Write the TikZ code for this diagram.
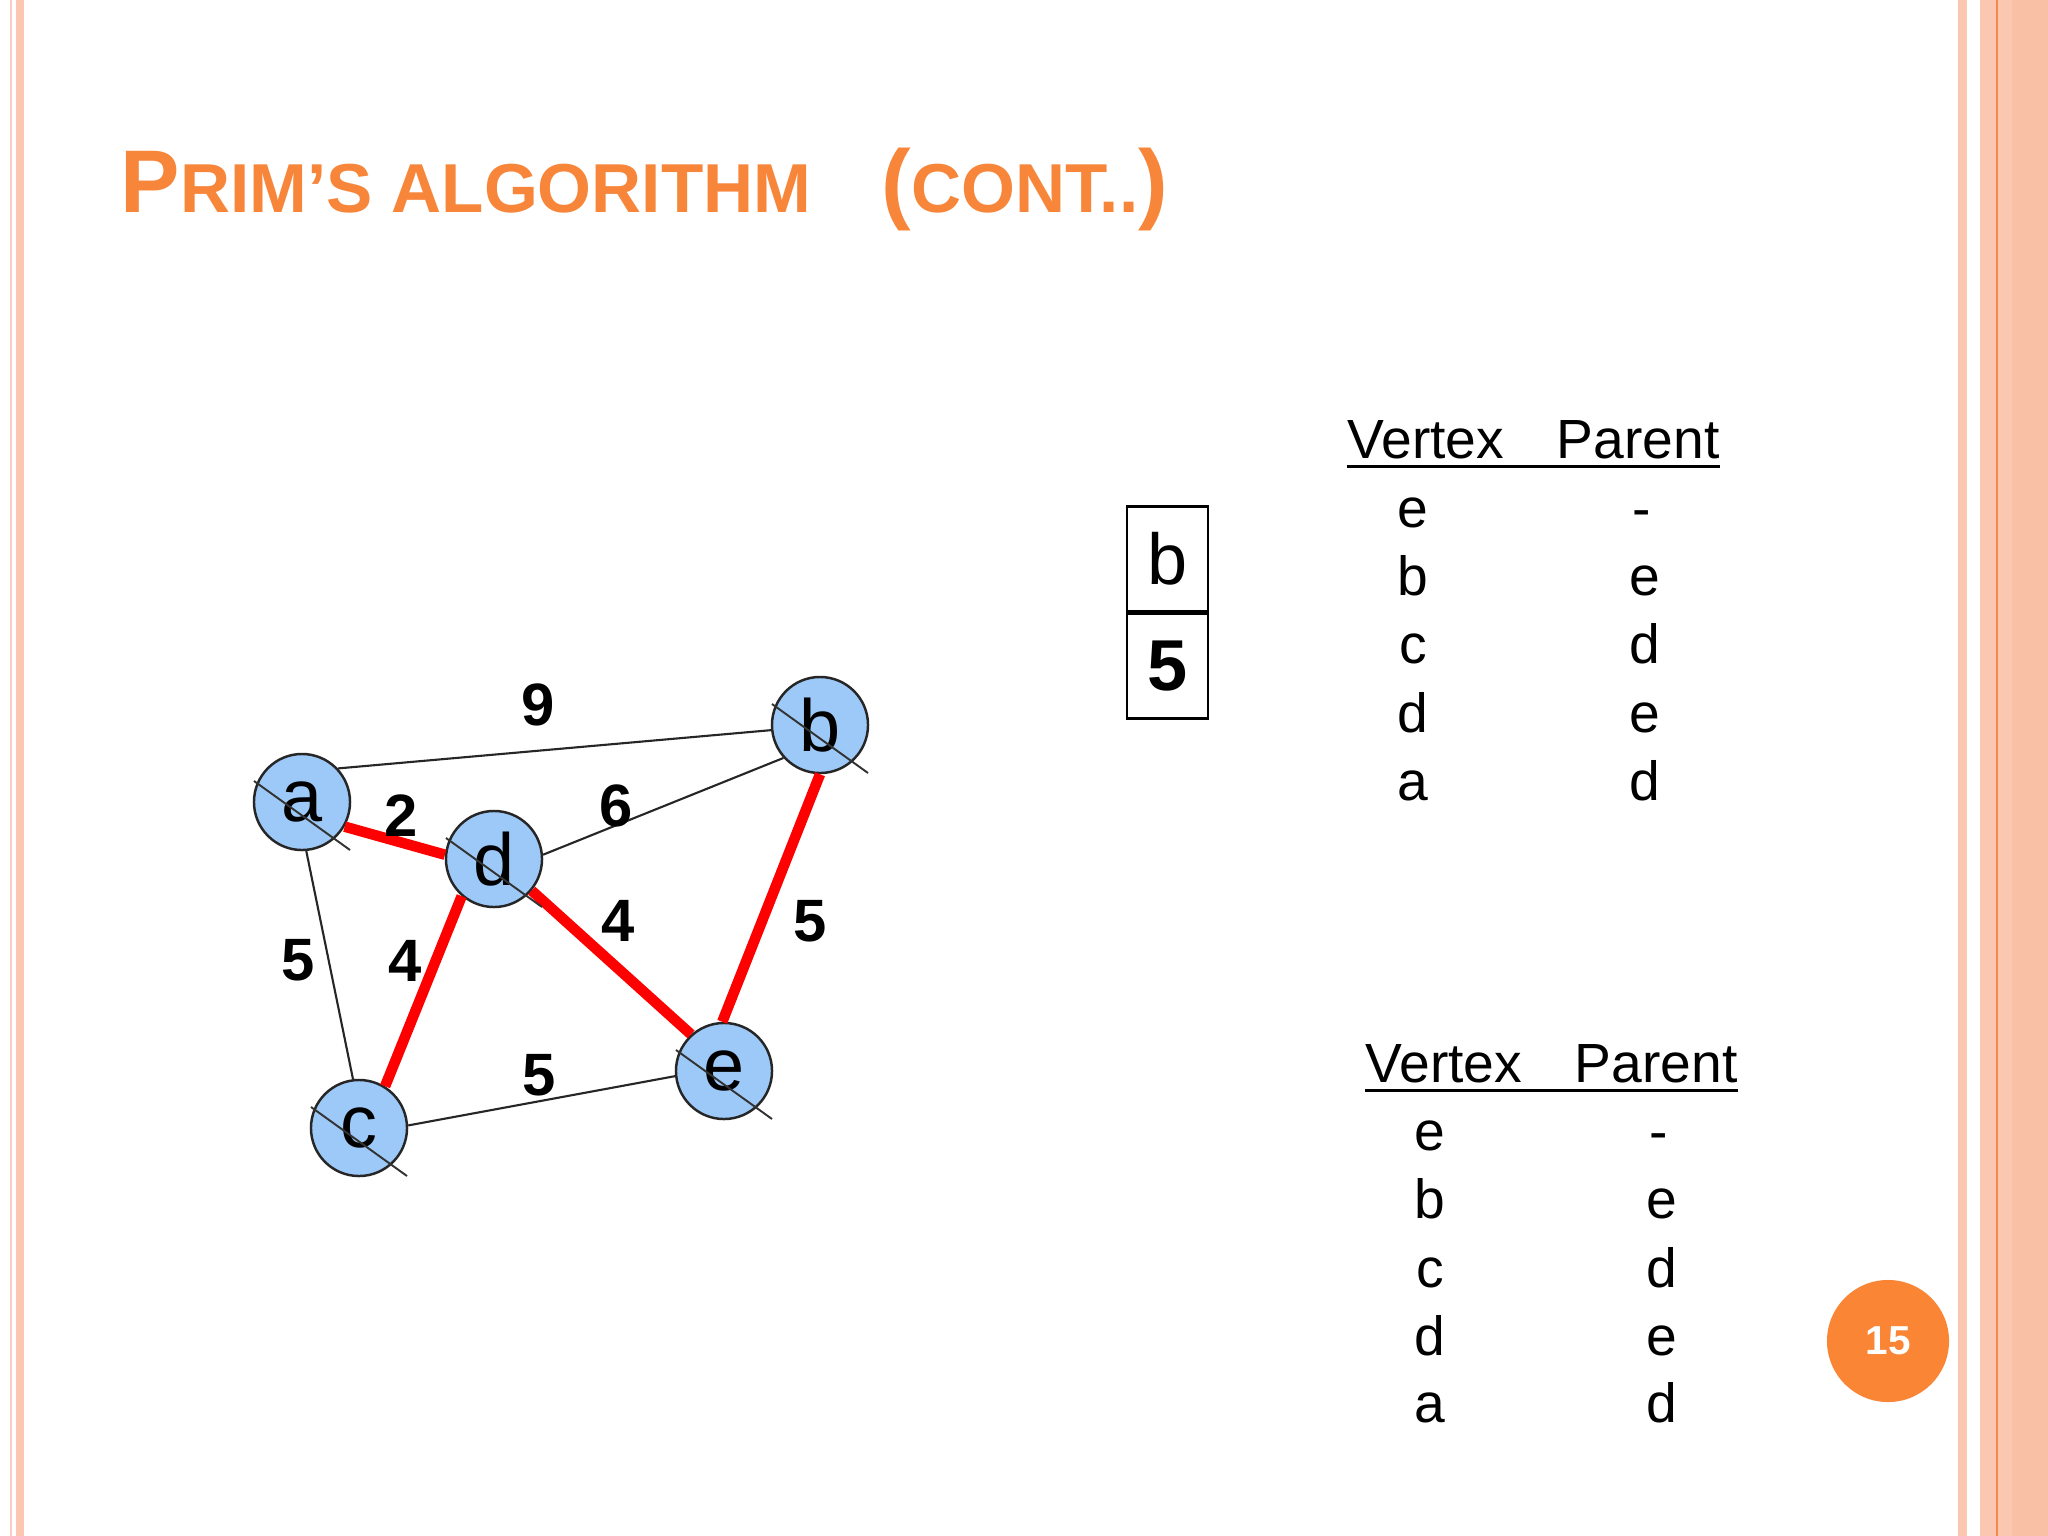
\documentclass[tikz,border=0pt]{standalone}
\usepackage{fontspec}
\setmainfont{Liberation Sans}
\usepackage{tikz}
\usetikzlibrary{positioning}
\usepackage{xcolor}

\definecolor{titleorange}{HTML}{F7863A}
\definecolor{pageorange}{HTML}{FA8535}
\definecolor{bandpink}{HTML}{FBC7B1}
\definecolor{bandpinkdark}{HTML}{FAC0A6}
\definecolor{thinpink}{HTML}{F6CEC3}
\definecolor{lineorange}{HTML}{F28A4E}
\definecolor{nodeblue}{HTML}{9DC9F8}
\definecolor{mstred}{HTML}{FF0000}

\tikzset{
	vertex/.style={circle, draw=black!85, line width=0.7pt, fill=nodeblue,
		minimum size=0.96cm, inner sep=0pt, font=\fontsize{21}{24}\selectfont},
	strike/.style={draw=black!80, line width=0.55pt},
	plainedge/.style={draw=black!85, line width=0.6pt},
	treeedge/.style={draw=mstred, line width=3pt},
	weight/.style={font=\fontsize{17}{20}\selectfont\bfseries, inner sep=0pt},
	tabtext/.style={font=\fontsize{15.7}{19}\selectfont, inner sep=0pt},
	cellbox/.style={draw=black, line width=0.7pt, minimum width=0.81cm,
		minimum height=1.045cm, inner sep=0pt, font=\fontsize{20.5}{24}\selectfont}
}

\newcommand{\bigtitle}{\fontsize{25.3}{30}\selectfont}
\newcommand{\smalltitle}{\fontsize{19.7}{24}\selectfont}

\begin{document}
\begin{tikzpicture}[x=0.01cm, y=-0.01cm]
			% Page and borders
			\fill[white] (0,0) rectangle (2048,1536);
			\useasboundingbox (0,0) rectangle (2048,1536);
			\fill[thinpink] (10,0) rectangle (12,1536);
			\fill[bandpink] (16,0) rectangle (24,1536);
			\fill[bandpink] (1958,0) rectangle (1967,1536);
			\fill[bandpink] (1980,0) rectangle (2048,1536);
			\fill[bandpinkdark] (2012,0) rectangle (2048,1536);
			\draw[lineorange, line width=0.6pt] (1997,0) -- (1997,1536);

			% Title
			\node[anchor=base west, inner sep=0pt, text=titleorange, font=\bfseries] (title) at (120,212)
				{{\bigtitle P}{\smalltitle RIM’S ALGORITHM}\hspace{20pt}{\bigtitle (}{\smalltitle CONT..}{\bigtitle )}};

			% Graph: vertices
			\node[vertex] (a) at (302,802)  {a};
			\node[vertex] (b) at (820,725)  {b};
			\node[vertex] (d) at (494,859)  {d};
			\node[vertex] (c) at (359,1128) {c};
			\node[vertex] (e) at (724,1071) {e};

			% Graph: edges not in the tree
			\draw[plainedge] (a.43) -- (b.186);
			\draw[plainedge] (d.5) -- (b.222);
			\draw[plainedge] (a.-85) -- (c.97);
			\draw[plainedge] (c.3) -- (e.186);

			% Graph: tree edges
			\draw[treeedge] (a.-30) -- (d.175);
			\draw[treeedge] (d.229) -- (c.58);
			\draw[treeedge] (d.-40) -- (e.132);
			\draw[treeedge] (b.-90) -- (e.92);

			% Strike marks over the vertices
			\draw[strike] (a.center) ++(-48,-21) -- ++(96,69);
			\draw[strike] (b.center) ++(-48,-21) -- ++(96,69);
			\draw[strike] (d.center) ++(-48,-21) -- ++(96,69);
			\draw[strike] (c.center) ++(-48,-21) -- ++(96,69);
			\draw[strike] (e.center) ++(-48,-21) -- ++(96,69);

			% Edge weights
			\node[weight] (wab) at (538,705)  {9};
			\node[weight] (wad) at (401,816)  {2};
			\node[weight] (wdb) at (616,806)  {6};
			\node[weight] (wac) at (298,960)  {5};
			\node[weight] (wdc) at (405,961)  {4};
			\node[weight] (wde) at (618,921)  {4};
			\node[weight] (wbe) at (810,921)  {5};
			\node[weight] (wce) at (539,1075) {5};

			% Current vertex and key
			\node[cellbox] (curv) at (1167.5,559) {b};
			\node[cellbox, font=\fontsize{20.5}{24}\selectfont\bfseries, below=0pt of curv] (curkey) {5};

			% Upper table
			\node[tabtext, anchor=base west] (tophead) at (1347,458) {Vertex\hspace{15pt}Parent};
			\draw[line width=1.1pt] ([yshift=-2.4pt]tophead.base west) -- ([yshift=-2.4pt]tophead.base east);
			\node[tabtext, anchor=base] (topv1) at (1413,527) {e};
			\node[tabtext, anchor=base] (topp1) at (1642,527) {-};
			\node[tabtext, anchor=base] (topv2) at (1413,595) {b};
			\node[tabtext, anchor=base] (topp2) at (1645,595) {e};
			\node[tabtext, anchor=base] (topv3) at (1413,663) {c};
			\node[tabtext, anchor=base] (topp3) at (1645,663) {d};
			\node[tabtext, anchor=base] (topv4) at (1413,732) {d};
			\node[tabtext, anchor=base] (topp4) at (1645,732) {e};
			\node[tabtext, anchor=base] (topv5) at (1413,800) {a};
			\node[tabtext, anchor=base] (topp5) at (1645,800) {d};

			% Lower table
			\node[tabtext, anchor=base west] (bothead) at (1365,1082) {Vertex\hspace{15pt}Parent};
			\draw[line width=1.1pt] ([yshift=-2.4pt]bothead.base west) -- ([yshift=-2.4pt]bothead.base east);
			\node[tabtext, anchor=base] (botv1) at (1430,1150) {e};
			\node[tabtext, anchor=base] (botp1) at (1659,1150) {-};
			\node[tabtext, anchor=base] (botv2) at (1430,1218) {b};
			\node[tabtext, anchor=base] (botp2) at (1662,1218) {e};
			\node[tabtext, anchor=base] (botv3) at (1430,1287) {c};
			\node[tabtext, anchor=base] (botp3) at (1662,1287) {d};
			\node[tabtext, anchor=base] (botv4) at (1430,1355) {d};
			\node[tabtext, anchor=base] (botp4) at (1662,1355) {e};
			\node[tabtext, anchor=base] (botv5) at (1430,1422) {a};
			\node[tabtext, anchor=base] (botp5) at (1662,1422) {d};

			% Slide number
			\node[circle, fill=pageorange, minimum size=1.22cm, inner sep=0pt, text=white,
				font=\fontsize{11.5}{14}\selectfont\bfseries] (pagenum) at (1888,1341) {15};
		\end{tikzpicture}
\end{document}
